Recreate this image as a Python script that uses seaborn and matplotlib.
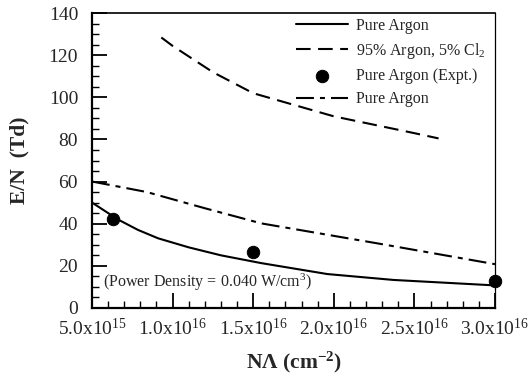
import matplotlib
matplotlib.use("Agg")
import matplotlib.pyplot as plt
import seaborn as sns
import numpy as np
import pandas as pd
from matplotlib.ticker import FixedLocator, MultipleLocator

# ---- data ----
x_pure = [5.0e15, 6.6e15, 7.85e15, 9.1e15, 1.1e16, 1.3e16, 1.55e16, 1.96e16, 2.37e16, 3.0e16]
y_pure = [50.0, 42.0, 37.0, 33.0, 28.7, 24.9, 21.2, 16.0, 13.2, 10.6]

x_cl = [9.3e15, 1.0e16, 1.25e16, 1.5e16, 2.0e16, 2.5e16, 2.65e16]
y_cl = [128.5, 124.5, 112.0, 102.0, 91.0, 83.0, 80.5]

x_expt = [6.3e15, 1.5e16, 3.0e16]
y_expt = [42.2, 26.6, 12.7]

x_dd = [5.0e15, 8.4e15, 1.2e16, 1.55e16, 2.27e16, 3.0e16]
y_dd = [60.0, 55.0, 47.3, 40.1, 30.6, 20.7]

xtick_vals = [5e15, 1e16, 1.5e16, 2e16, 2.5e16, 3e16]
xtick_labels = [r"5.0x10$^{15}$", r"1.0x10$^{16}$", r"1.5x10$^{16}$",
                r"2.0x10$^{16}$", r"2.5x10$^{16}$", r"3.0x10$^{16}$"]
ytick_vals = [0, 20, 40, 60, 80, 100, 120, 140]

labels = ["Pure Argon", r"95% Argon, 5% Cl$_2$", "Pure Argon (Expt.)", "Pure Argon"]

# ---- style ----
sns.set_style("ticks")
plt.rcParams["font.family"] = ["Liberation Serif", "DejaVu Serif"]
plt.rcParams["mathtext.fontset"] = "custom"
plt.rcParams["mathtext.rm"] = "Liberation Serif"
plt.rcParams["mathtext.it"] = "Liberation Serif:italic"
plt.rcParams["mathtext.bf"] = "Liberation Serif:bold"
plt.rcParams["mathtext.default"] = "regular"

fig = plt.figure(figsize=(5.28, 3.81), dpi=100)
ax = fig.add_axes([92/528, 1-307.7/381, (495-92)/528, (307.7-13.3)/381])

df_pure = pd.DataFrame({"x": x_pure, "y": y_pure})
df_cl = pd.DataFrame({"x": x_cl, "y": y_cl})
df_ex = pd.DataFrame({"x": x_expt, "y": y_expt})
df_dd = pd.DataFrame({"x": x_dd, "y": y_dd})

sns.lineplot(data=df_pure, x="x", y="y", ax=ax, color="black", lw=1.5,
             label=labels[0], sort=False)
sns.lineplot(data=df_cl, x="x", y="y", ax=ax, color="black", lw=1.5,
             label=labels[1], sort=False)
sns.scatterplot(data=df_ex, x="x", y="y", ax=ax, color="black", s=80,
                edgecolor="black", label=labels[2], clip_on=False, zorder=5)
sns.lineplot(data=df_dd, x="x", y="y", ax=ax, color="black", lw=1.5,
             label=labels[3], sort=False)

lines = ax.get_lines()
lines[1].set_dashes((7.0, 3.6))
lines[2].set_dashes((8.6, 2.9, 2.4, 2.9))

ax.set_xlim(5e15, 3e16)
ax.set_ylim(0, 140)

ax.xaxis.set_major_locator(FixedLocator(xtick_vals))
ax.set_xticklabels(xtick_labels)
ax.xaxis.set_minor_locator(MultipleLocator(1e15))
ax.yaxis.set_major_locator(FixedLocator(ytick_vals))
ax.yaxis.set_minor_locator(MultipleLocator(5))

ax.tick_params(axis="both", which="major", direction="in", length=11,
               width=1.3, labelsize=14, color="black")
ax.tick_params(axis="both", which="minor", direction="in", length=5,
               width=1.0, color="black")
ax.tick_params(axis="y", which="major", pad=10)
ax.tick_params(axis="x", which="major", pad=7)
ax.tick_params(top=False, right=False, which="both")

for side, lw in [("left", 1.6), ("bottom", 1.6), ("top", 1.2), ("right", 0.9)]:
    ax.spines[side].set_visible(True)
    ax.spines[side].set_linewidth(lw)
    ax.spines[side].set_color("black")

ax.set_xlabel(r"N$\mathbf{\Lambda}$ (cm$^{\mathbf{-2}}$)", fontsize=15.5,
              fontweight="bold", labelpad=8)
ax.set_ylabel("E/N  (Td)", fontsize=15.5, fontweight="bold", labelpad=14)

ax.text(0.027, 0.071, r"(Power Density = 0.040 W/cm$^3$)", transform=ax.transAxes,
        fontsize=11.5, ha="left", va="baseline")

leg = ax.legend(loc="upper left", bbox_to_anchor=(0.505, 0.985), frameon=False,
                fontsize=11.5, handlelength=3.3, handletextpad=0.5,
                labelspacing=0.45, borderpad=0, borderaxespad=0)

fig.savefig("out.png", dpi=100)
